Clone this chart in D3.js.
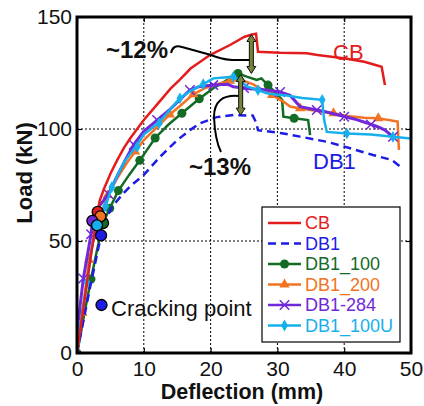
<!DOCTYPE html>
<html>
<head>
<meta charset="utf-8">
<script src="https://cdn.jsdelivr.net/npm/d3@7"></script>
<style>
  body { margin: 0; background: #fff; }
  svg { font-family: Arial, "Liberation Sans", sans-serif; }
</style>
</head>
<body>
<svg id="chart" width="424" height="406"></svg>
<script>
// Load-deflection data (mm, kN)
const cbX = [0, 1, 2, 3.1, 3.4, 4, 5, 6, 7, 8, 9, 10, 12, 14, 15.4, 17, 19.9, 22.9, 25.1, 26.2, 26.8, 27.1, 30.4, 34.4, 36, 39.9, 43, 45.6, 46.1];
const cbY = [0, 21, 42, 63, 68, 73, 80, 86, 91.5, 96, 100, 104, 111, 118, 122, 127, 133, 137.5, 141.2, 142.2, 142.5, 134.5, 134, 133.8, 133, 131.6, 130, 127.8, 119.6];

const db1X = [0, 1, 2, 3, 3.6, 4.4, 5.2, 6.7, 8, 10, 12.4, 15, 16.9, 18.4, 20.9, 23.4, 26.3, 26.8, 27.1, 30.9, 33.4, 37.4, 40.9, 44.3, 47.1, 48.4, 48.6];
const db1Y = [0, 15, 30, 44, 52.5, 60, 65, 70.5, 74.5, 79.5, 87.5, 95, 99.5, 102.5, 105.3, 106.2, 106, 103, 99.5, 98, 96.6, 94.3, 91.4, 88.4, 86.2, 83.2, 81.7];

const db100X = [0, 1, 2.1, 3, 3.9, 4.9, 6.2, 7.8, 9.4, 11.7, 13.7, 15.7, 18.3, 20.4, 22.9, 24.1, 25.4, 26.9, 27.6, 28.6, 29.8, 30.7, 30.9, 32.5, 34.6, 34.9];
const db100Y = [0, 16, 33, 46, 58, 64.6, 72.5, 79.5, 86, 96, 102, 107, 113.5, 118.2, 122.6, 124.8, 123.4, 121.9, 122.6, 119.6, 116, 113, 105.5, 104.8, 104, 97.3];
const db100MX = [0, 2.1, 4.9, 6.2, 9.4, 11.7, 15.7, 18.3, 24.1, 28.6, 32.5];
const db100MY = [0, 33, 64.6, 72.5, 86, 96, 107, 113.5, 124.8, 119.6, 104.8];

const db200X = [0, 0.8, 1.8, 2.8, 3.5, 4.6, 6, 7.5, 8.7, 10, 11.7, 13.9, 15.5, 17.4, 19, 20.4, 22.9, 24.5, 26.3, 27.5, 29.2, 31, 31.9, 33.4, 36, 38.4, 40.4, 43, 45.1, 48, 48.1, 48.2];
const db200Y = [0, 18, 41.5, 55, 61, 70.5, 78, 85, 90, 95, 100, 106.5, 110.5, 115.5, 118, 119.6, 121.5, 122, 120, 118, 115.2, 112, 110, 109.2, 108, 107, 105.8, 105, 104.8, 103.3, 96, 90.6];
const db200MX = [0.8, 1.8, 4.6, 8.7, 13.9, 17.4, 22.9, 29.2, 33.4, 38.4, 45.1];
const db200MY = [18, 41.5, 70.5, 90, 106.5, 115.5, 121.5, 115.2, 109.2, 107, 104.8];

const db284X = [0, 0.1, 0.95, 2.1, 2.3, 3.2, 4.7, 6, 7.2, 8.5, 10, 12, 14, 16.9, 18.4, 20.4, 22.5, 23.4, 25.9, 28, 30.4, 31.9, 33.4, 35.9, 37.5, 39.4, 41.5, 43.4, 45, 46.1, 47.3];
const db284Y = [0, 12, 33.3, 53, 58.6, 65, 71, 79, 86, 93, 99, 104, 109, 117.4, 119, 119.6, 120, 118.9, 118, 117.5, 116.5, 115, 110, 108.5, 107.5, 106, 104.5, 102.7, 101, 99.5, 96.5];
const db284MX = [0.1, 0.95, 2.1, 4.7, 8.5, 12, 16.9, 20.4, 25, 30.4, 35.9, 40, 44, 47.3];
const db284MY = [12, 33.3, 53, 71, 93, 104, 117.4, 119.6, 118.3, 116.5, 108.5, 105.5, 102, 96.5];

const db100uX = [0, 0.1, 1.5, 2.4, 3.0, 4.3, 5.2, 7, 9, 10, 12.3, 15.4, 17, 18.9, 20.4, 22, 23.4, 24.5, 25.4, 27.1, 28.4, 30, 31.4, 33.7, 35, 36.7, 37.0, 37.4, 40.4, 44, 47.3, 50];
const db100uY = [0, 5, 31.6, 50.4, 57, 65.6, 74, 85, 93, 97.5, 103, 113.7, 117, 120, 122.6, 123, 123.3, 121.5, 119, 117.4, 116, 115.3, 115, 113.8, 113.5, 113, 104, 98.7, 98, 97.5, 96.5, 95.8];
const db100uMX = [0.1, 1.5, 4.3, 5.2, 9, 12.3, 15.4, 18.9, 23.4, 27.1, 36.7, 40.4, 47.3];
const db100uMY = [5, 31.6, 65.6, 74, 92, 102.6, 113.7, 120, 123.3, 117.4, 113, 98, 96.5];

// cracking points: DB1_100, CB, DB1_200, DB1-284, DB1_100U, DB1
const crackNames = ["DB1_100", "CB", "DB1_200", "DB1-284", "DB1_100U", "DB1"];
const crackX = [3.9, 3.1, 3.5, 2.3, 3.0, 3.6];
const crackY = [58, 63, 61, 59, 57, 52.5];

const xTicks = [0, 10, 20, 30, 40, 50];
const yTicks = [0, 50, 100, 150];

const colors = {
  "CB": "#e41c1c",
  "DB1": "#1c1ce6",
  "DB1_100": "#136b25",
  "DB1_200": "#f27322",
  "DB1-284": "#7028d8",
  "DB1_100U": "#16b0ec"
};

const series = [
  { name: "CB", xs: cbX, ys: cbY, dash: null, marker: null },
  { name: "DB1", xs: db1X, ys: db1Y, dash: "8,5", marker: null },
  { name: "DB1_100", xs: db100X, ys: db100Y, mx: db100MX, my: db100MY, marker: "circle" },
  { name: "DB1_200", xs: db200X, ys: db200Y, mx: db200MX, my: db200MY, marker: "triangle" },
  { name: "DB1-284", xs: db284X, ys: db284Y, mx: db284MX, my: db284MY, marker: "cross" },
  { name: "DB1_100U", xs: db100uX, ys: db100uY, mx: db100uMX, my: db100uMY, marker: "diamond" }
];

const svg = d3.select("#chart");
const x = d3.scaleLinear().domain([0, 50]).range([77, 411]);
const y = d3.scaleLinear().domain([0, 150]).range([353, 17]);

svg.append("defs").append("clipPath").attr("id", "plot")
  .append("rect").attr("x", 77).attr("y", 17).attr("width", 334).attr("height", 336);

// grid
const grid = svg.append("g").attr("stroke", "#000").attr("stroke-width", 1).attr("stroke-dasharray", "2,2");
grid.selectAll(".gx").data([10, 20, 30, 40]).join("line")
  .attr("x1", d => x(d)).attr("x2", d => x(d)).attr("y1", y(0)).attr("y2", y(150));
grid.selectAll(".gy").data([50, 100]).join("line")
  .attr("x1", x(0)).attr("x2", x(50)).attr("y1", d => y(d)).attr("y2", d => y(d));

// axes
svg.append("g").attr("transform", `translate(0,${y(0)})`)
  .call(d3.axisBottom(x).tickValues(xTicks).tickSize(-5).tickPadding(8));
svg.append("g").attr("transform", `translate(${x(0)},0)`)
  .call(d3.axisLeft(y).tickValues(yTicks).tickSize(-5).tickPadding(5));
svg.append("g").attr("transform", `translate(0,${y(150)})`)
  .call(d3.axisTop(x).tickValues(xTicks).tickSize(-5).tickFormat(""));
svg.append("g").attr("transform", `translate(${x(50)},0)`)
  .call(d3.axisRight(y).tickValues(yTicks).tickSize(-5).tickFormat(""));
svg.selectAll(".domain").remove();
svg.selectAll(".tick line").attr("stroke-width", 1.2);
svg.selectAll(".tick text").attr("font-size", 21).attr("fill", "#111")
  .attr("font-family", "Arial, 'Liberation Sans', sans-serif");

// curves
const plot = svg.append("g").attr("clip-path", "url(#plot)");
const line = d3.line().x(d => x(d[0])).y(d => y(d[1]));
const triangle = d3.symbol().type(d3.symbolTriangle).size(46);
const diamond = d3.symbol().type(d3.symbolDiamond).size(40);
const cross = d3.symbol().type(d3.symbolX).size(60);

function drawMarker(g, kind, px, py, color) {
  if (kind === "circle") {
    g.append("circle").attr("cx", px).attr("cy", py).attr("r", 4.5).attr("fill", color);
  } else if (kind === "triangle") {
    g.append("path").attr("d", triangle()).attr("transform", `translate(${px},${py})`).attr("fill", color);
  } else if (kind === "diamond") {
    g.append("path").attr("d", diamond()).attr("transform", `translate(${px},${py})`).attr("fill", color);
  } else if (kind === "cross") {
    g.append("path").attr("d", cross()).attr("transform", `translate(${px},${py})`)
      .attr("fill", "none").attr("stroke", color).attr("stroke-width", 1.5);
  }
}

const drawOrder = ["DB1_100", "DB1_200", "DB1-284", "DB1_100U", "DB1", "CB"];
drawOrder.forEach(n => {
  const s = series.find(d => d.name === n);
  const c = colors[s.name];
  const g = plot.append("g");
  g.append("path")
    .datum(s.xs.map((v, i) => [v, s.ys[i]]))
    .attr("d", line)
    .attr("fill", "none")
    .attr("stroke", c)
    .attr("stroke-width", s.name === "DB1-284" ? 3 : 2.5)
    .attr("stroke-dasharray", s.dash);
  if (s.marker) {
    s.mx.forEach((v, i) => drawMarker(g, s.marker, x(v), y(s.my[i]), c));
  }
});

// cracking points
plot.selectAll(".crack").data(crackNames).join("circle")
  .attr("cx", (d, i) => x(crackX[i])).attr("cy", (d, i) => y(crackY[i]))
  .attr("r", 5.5).attr("fill", d => colors[d])
  .attr("stroke", "#000").attr("stroke-width", 1.3);

// frame
svg.append("rect").attr("x", 77).attr("y", 17).attr("width", 334).attr("height", 336)
  .attr("fill", "none").attr("stroke", "#000").attr("stroke-width", 3);

// axis titles
svg.append("text").attr("x", 242).attr("y", 399).attr("text-anchor", "middle")
  .attr("font-size", 21.5).attr("font-weight", "bold").attr("fill", "#111").text("Deflection (mm)");
svg.append("text").attr("transform", "translate(32,173) rotate(-90)").attr("text-anchor", "middle")
  .attr("font-size", 22).attr("font-weight", "bold").attr("fill", "#111").text("Load (kN)");

// cracking point note
svg.append("circle").attr("cx", 101.5).attr("cy", 305).attr("r", 5.5)
  .attr("fill", colors["DB1"]).attr("stroke", "#000").attr("stroke-width", 1.3);
svg.append("text").attr("x", 111).attr("y", 316).attr("font-size", 22).attr("fill", "#111").text("Cracking point");

// curve labels
svg.append("text").attr("x", 333).attr("y", 60).attr("font-size", 22).attr("fill", colors["CB"]).text("CB");
svg.append("text").attr("x", 313).attr("y", 169).attr("font-size", 22).attr("fill", colors["DB1"]).text("DB1");

// percentage annotations
svg.append("text").attr("x", 106).attr("y", 58).attr("font-size", 24).attr("font-weight", "bold").attr("fill", "#111").text("~12%");
svg.append("text").attr("x", 189).attr("y", 175).attr("font-size", 24).attr("font-weight", "bold").attr("fill", "#111").text("~13%");
svg.append("path").attr("d", "M171,53 Q173,44 182,47 L211,55 Q220,59 232,60 L250,60")
  .attr("fill", "none").attr("stroke", "#000").attr("stroke-width", 2);
svg.append("path").attr("d", "M239,96 Q214,94 214,117 Q215,140 221,152")
  .attr("fill", "none").attr("stroke", "#000").attr("stroke-width", 2);

function dblArrow(cx, y1, y2) {
  const hw = 4.5, hl = 7, sw = 2;
  const d = `M${cx},${y1} L${cx + hw},${y1 + hl} L${cx + sw},${y1 + hl} L${cx + sw},${y2 - hl} L${cx + hw},${y2 - hl} L${cx},${y2} L${cx - hw},${y2 - hl} L${cx - sw},${y2 - hl} L${cx - sw},${y1 + hl} L${cx - hw},${y1 + hl} Z`;
  svg.append("path").attr("d", d).attr("fill", "#76853a").attr("stroke", "#111").attr("stroke-width", 1);
}
dblArrow(x(26.1), y(142.2), y(124.8));
dblArrow(x(24.5), y(124.3), y(106.2));

// legend
const legend = svg.append("g");
legend.append("rect").attr("x", 262).attr("y", 207).attr("width", 138).attr("height", 135)
  .attr("fill", "#fff").attr("stroke", "#000").attr("stroke-width", 1.2);
series.forEach((s, i) => {
  const ly = 223 + i * 20.5;
  const c = colors[s.name];
  legend.append("line").attr("x1", 268).attr("x2", 301).attr("y1", ly).attr("y2", ly)
    .attr("stroke", c).attr("stroke-width", 2.5).attr("stroke-dasharray", s.dash);
  if (s.marker) drawMarker(legend, s.marker, 284.5, ly, c);
  legend.append("text").attr("x", 305).attr("y", ly).attr("dy", "0.35em")
    .attr("font-size", 18).attr("fill", c).text(s.name);
});
</script>
</body>
</html>
